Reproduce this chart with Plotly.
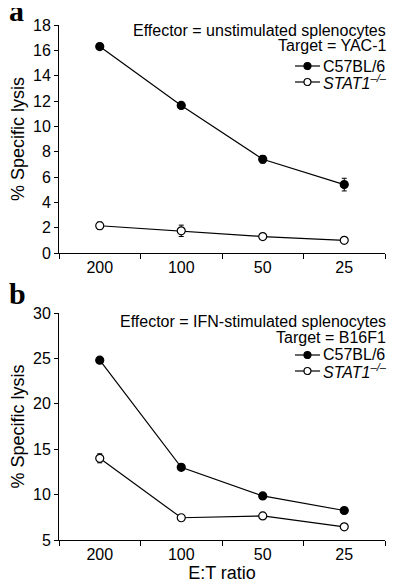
import plotly.graph_objects as go

ratios = ["200", "100", "50", "25"]
xpos = [0, 1, 2, 3]

a_wt = [16.3, 11.65, 7.4, 5.4]
a_wt_err = [0.2, 0.15, 0.3, 0.5]
a_ko = [2.15, 1.75, 1.3, 1.0]
a_ko_err = [0.3, 0.45, 0.1, 0.1]

b_wt = [24.8, 13.0, 9.85, 8.25]
b_wt_err = [0.15, 0.3, 0.2, 0.15]
b_ko = [14.0, 7.45, 7.65, 6.45]
b_ko_err = [0.5, 0.3, 0.15, 0.15]

FONT = "Liberation Sans, Arial, sans-serif"
W, H = 405, 585
OFF = 8  # page body margin offset
# desired plot-area edges in screen pixels
SX0, SX1, STOP, SBOT = 59, 385, 25, 540
ML = SX0 - OFF
MR = W - (SX1 - OFF)
MT = STOP - OFF
MB = H - (SBOT - OFF)
PW, PH = W - ML - MR, H - MT - MB

def px(x):
    return (x - OFF - ML) / PW

def py(y):
    return (H - MB - (y - OFF)) / PH

fig = go.Figure()

def add(y, err, filled, xa, ya):
    fig.add_trace(go.Scatter(
        x=xpos, y=y, xaxis=xa, yaxis=ya, mode="lines+markers", showlegend=False,
        line=dict(color="black", width=1.2),
        marker=dict(symbol="circle", size=8, color="black" if filled else "white",
                    line=dict(color="black", width=1.2)),
        error_y=dict(type="data", array=err, color="black", thickness=1, width=2.5),
    ))

add(a_wt, a_wt_err, True, "x", "y")
add(a_ko, a_ko_err, False, "x", "y")
add(b_wt, b_wt_err, True, "x2", "y2")
add(b_ko, b_ko_err, False, "x2", "y2")

xcommon = dict(range=[-0.5, 3.5], tickvals=xpos, ticktext=ratios, ticks="",
               showline=True, linecolor="black", linewidth=1, showgrid=False, zeroline=False,
               automargin=False,
               tickfont=dict(size=16, color="black", family=FONT),
               minor=dict(tickvals=[-0.5, 0.5, 1.5, 2.5, 3.5], ticks="outside",
                          ticklen=5, tickcolor="black", tickwidth=1, showgrid=False))
ycommon = dict(showline=True, linecolor="black", linewidth=1, showgrid=False, zeroline=False,
               ticks="outside", ticklen=4, tickcolor="black", tickwidth=1, automargin=False,
               tickfont=dict(size=16, color="black", family=FONT),
               title=dict(text="% Specific lysis", font=dict(size=18, color="black", family=FONT), standoff=6))

fig.update_layout(
    width=W, height=H, plot_bgcolor="white", paper_bgcolor="white",
    margin=dict(l=ML, r=MR, t=MT, b=MB),
    font=dict(family=FONT, color="black"),
    showlegend=False,
    xaxis=dict(domain=[0, 1], anchor="y", **xcommon),
    yaxis=dict(domain=[py(253), 1.0], anchor="x", range=[0, 18], dtick=2, **ycommon),
    xaxis2=dict(domain=[0, 1], anchor="y2",
                title=dict(text="E:T ratio", font=dict(size=18, color="black", family=FONT), standoff=2),
                **xcommon),
    yaxis2=dict(domain=[0, py(313)], anchor="x2", range=[5, 30], dtick=5, **ycommon),
)

TF = dict(size=16, color="black", family=FONT)
ko_name = "<i>STAT1</i><sup><i>–/–</i></sup>"
panels = [
    ("Effector = unstimulated splenocytes", "Target = YAC-1", [31, 46, 66, 82]),
    ("Effector = IFN-stimulated splenocytes", "Target = B16F1", [321, 337, 355, 371]),
]
for eff, tgt, ys in panels:
    fig.add_annotation(text=eff, x=px(388), y=py(ys[0]), xref="paper", yref="paper",
                       xanchor="right", yanchor="middle", showarrow=False, font=TF)
    fig.add_annotation(text=tgt, x=px(388), y=py(ys[1]), xref="paper", yref="paper",
                       xanchor="right", yanchor="middle", showarrow=False, font=TF)
    for label, yy, filled in [("C57BL/6", ys[2], True), (ko_name, ys[3], False)]:
        fig.add_annotation(text=label, x=px(321), y=py(yy), xref="paper", yref="paper",
                           xanchor="left", yanchor="middle", showarrow=False, font=TF)
        fig.add_shape(type="line", xref="paper", yref="paper", x0=px(295), x1=px(320),
                      y0=py(yy), y1=py(yy), line=dict(color="black", width=1.2))
        fig.add_shape(type="circle", xref="paper", yref="paper", x0=px(304), x1=px(311),
                      y0=py(yy - 3.5), y1=py(yy + 3.5),
                      fillcolor="black" if filled else "white", line=dict(color="black", width=1.2))

for letter, ycen in [("a", 10), ("b", 293)]:
    fig.add_annotation(text="<b>" + letter + "</b>", xref="paper", yref="paper",
                       x=px(7), y=py(ycen), xanchor="left", yanchor="middle",
                       showarrow=False, font=dict(size=30, color="black", family="Liberation Serif, Times New Roman, serif"))

fig.write_html("out.html")
